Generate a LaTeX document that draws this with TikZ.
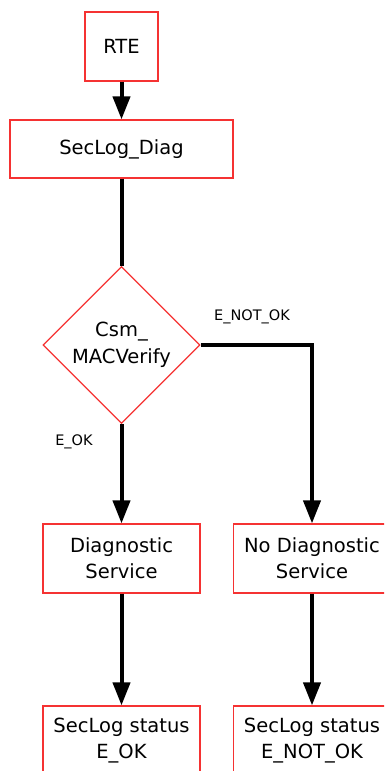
\documentclass[tikz,border=0pt]{standalone}
\usepackage{fontspec}
\setmainfont{DejaVu Sans}
\usetikzlibrary{arrows.meta,shapes.geometric}
\definecolor{boxred}{RGB}{245,50,50}
\tikzset{
  stepbox/.style={draw=boxred, line width=1.2pt, rectangle, inner sep=0pt,
    align=center, font=\fontsize{19.5}{26}\selectfont},
  decision/.style={draw=boxred, line width=1.2pt, diamond, aspect=1, inner sep=0pt,
    minimum width=157pt, minimum height=157pt, align=center,
    font=\fontsize{19.5}{27}\selectfont},
  flow/.style={line width=4pt, -{Triangle[width=17pt,length=23pt]}},
  plain/.style={line width=4pt},
  edgelabel/.style={font=\fontsize{14.5}{16}\selectfont, inner sep=0pt}
}
\begin{document}
\begin{tikzpicture}[x=1pt,y=-1pt]
  \useasboundingbox (0,0) rectangle (384,771);
  \clip (0,0) rectangle (384,771);

  % process steps
  \node[stepbox, minimum width=73pt, minimum height=69pt] (rte) at (121.5,46.5) {RTE};
  \node[stepbox, minimum width=223pt, minimum height=58pt] (diag) at (121.5,149) {SecLog\_Diag};
  \node[decision] (mac) at (121.5,345) {Csm\_\\MACVerify};
  \node[stepbox, minimum width=157pt, minimum height=69pt] (svc) at (121.5,558.5) {Diagnostic\\Service};
  \node[stepbox, minimum width=157pt, minimum height=69pt] (nosvc) at (312,558.5) {No Diagnostic\\Service};
  \node[stepbox, minimum width=157pt, minimum height=69pt] (ok) at (121.5,740.5) {SecLog status\\E\_OK};
  \node[stepbox, minimum width=157pt, minimum height=69pt] (notok) at (312,740.5) {SecLog status\\E\_NOT\_OK};

  % connectors
  \draw[flow] (rte) -- (diag);
  \draw[plain] (diag) -- (mac.north);
  \draw[flow] (mac.south) -- (svc);
  \draw[flow] (mac.east) -| (nosvc.north);
  \draw[flow] (svc) -- (ok);
  \draw[flow] (nosvc) -- (notok);

  % branch labels
  \node[edgelabel] (lnotok) at (252,317) {E\_NOT\_OK};
  \node[edgelabel] (lok) at (74,442) {E\_OK};
\end{tikzpicture}
\end{document}
